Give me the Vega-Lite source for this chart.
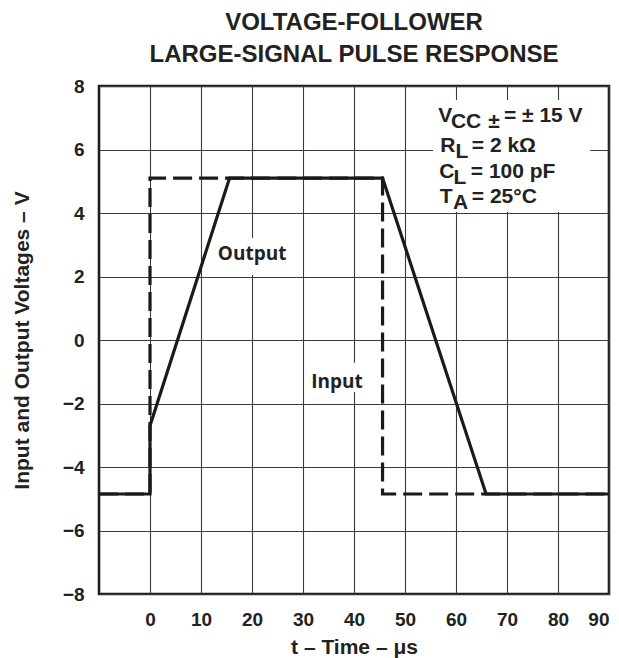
{
  "$schema": "https://vega.github.io/schema/vega-lite/v6.json",
  "width": 510,
  "height": 508,
  "autosize": {"type": "none"},
  "padding": {"left": 99, "top": 86, "right": 10, "bottom": 64},
  "background": "white",
  "title": {
    "text": ["VOLTAGE-FOLLOWER", "LARGE-SIGNAL PULSE RESPONSE"],
    "font": "Liberation Sans",
    "fontSize": 24,
    "fontWeight": "bold",
    "color": "#222222",
    "lineHeight": 32,
    "offset": 10
  },
  "config": {
    "view": {"stroke": "#1e1e1e", "strokeWidth": 2.6},
    "axis": {
      "labelFont": "Liberation Sans",
      "labelFontSize": 19,
      "labelFontWeight": "bold",
      "labelColor": "#222222",
      "titleFont": "Liberation Sans",
      "titleFontSize": 21,
      "titleFontWeight": "bold",
      "titleColor": "#222222",
      "domain": false,
      "ticks": false,
      "tickSize": 0,
      "gridColor": "#3a3a3a",
      "gridWidth": 1.1,
      "gridOpacity": 1,
      "labelExpr": "replace(datum.label, '-', '−')"
    }
  },
  "datasets": {
    "traces": [
      {"signal": "Output", "i": 1, "t": -10, "v": -4.85},
      {"signal": "Output", "i": 2, "t": 0, "v": -4.85},
      {"signal": "Output", "i": 3, "t": 0, "v": -2.7},
      {"signal": "Output", "i": 4, "t": 15.6, "v": 5.1},
      {"signal": "Output", "i": 5, "t": 45.6, "v": 5.1},
      {"signal": "Output", "i": 6, "t": 65.9, "v": -4.85},
      {"signal": "Output", "i": 7, "t": 90, "v": -4.85},
      {"signal": "Input", "i": 1, "t": -10, "v": -4.85},
      {"signal": "Input", "i": 2, "t": 0, "v": -4.85},
      {"signal": "Input", "i": 3, "t": 0, "v": 5.1},
      {"signal": "Input", "i": 4, "t": 45.6, "v": 5.1},
      {"signal": "Input", "i": 5, "t": 45.6, "v": -4.85},
      {"signal": "Input", "i": 6, "t": 90, "v": -4.85}
    ],
    "boxes": [
      {"name": "conditions", "x1": 55.5, "x2": 86.3, "y1": 7.56, "y2": 4.03},
      {"name": "Output", "x1": 13.5, "x2": 27.1, "y1": 3.21, "y2": 2.05},
      {"name": "Input", "x1": 32.0, "x2": 42.0, "y1": -0.72, "y2": -1.64}
    ],
    "labels": [
      {"label": "Output", "t": 13.3, "v": 2.52},
      {"label": "Input", "t": 31.6, "v": -1.52}
    ],
    "notes": [
      {"kind": "main", "txt": "V", "t": 56.5, "v": 6.86},
      {"kind": "sub", "txt": "CC", "t": 59.0, "v": 6.86},
      {"kind": "sub", "txt": "±", "t": 66.3, "v": 6.86},
      {"kind": "main", "txt": "= ± 15 V", "t": 69.4, "v": 6.86},
      {"kind": "main", "txt": "R", "t": 56.9, "v": 5.93},
      {"kind": "sub", "txt": "L", "t": 59.9, "v": 5.93},
      {"kind": "main", "txt": "= 2 kΩ", "t": 63.1, "v": 5.93},
      {"kind": "main", "txt": "C", "t": 56.7, "v": 5.11},
      {"kind": "sub", "txt": "L", "t": 59.5, "v": 5.11},
      {"kind": "main", "txt": "= 100 pF", "t": 62.9, "v": 5.11},
      {"kind": "main", "txt": "T", "t": 56.8, "v": 4.31},
      {"kind": "sub", "txt": "A", "t": 59.4, "v": 4.31},
      {"kind": "main", "txt": "= 25°C", "t": 63.1, "v": 4.31}
    ]
  },
  "layer": [
    {
      "data": {"name": "boxes"},
      "mark": {"type": "rect", "fill": "white", "stroke": null},
      "encoding": {
        "x": {"field": "x1", "type": "quantitative",
          "scale": {"domain": [-10, 90], "nice": false, "zero": false},
          "axis": {"values": [0, 10, 20, 30, 40, 50, 60, 70, 80, 90], "title": "t – Time – μs", "labelPadding": 16, "titlePadding": 7, "grid": true}},
        "x2": {"field": "x2"},
        "y": {"field": "y1", "type": "quantitative",
          "scale": {"domain": [-8, 8], "nice": false, "zero": false},
          "axis": {"values": [-8, -6, -4, -2, 0, 2, 4, 6, 8], "title": "Input and Output Voltages – V", "labelPadding": 15, "titlePadding": 30, "grid": true}},
        "y2": {"field": "y2"}
      }
    },
    {
      "data": {"name": "traces"},
      "transform": [{"filter": "datum.signal === 'Input'"}],
      "mark": {"type": "line", "color": "#1a1a1a", "strokeWidth": 3.2, "strokeDash": [19, 7], "strokeCap": "butt"},
      "encoding": {
        "x": {"field": "t", "type": "quantitative"},
        "y": {"field": "v", "type": "quantitative"},
        "order": {"field": "i", "type": "quantitative"}
      }
    },
    {
      "data": {"name": "traces"},
      "transform": [{"filter": "datum.signal === 'Output'"}],
      "mark": {"type": "line", "color": "#1a1a1a", "strokeWidth": 3.2},
      "encoding": {
        "x": {"field": "t", "type": "quantitative"},
        "y": {"field": "v", "type": "quantitative"},
        "order": {"field": "i", "type": "quantitative"}
      }
    },
    {
      "data": {"name": "labels"},
      "mark": {"type": "text", "font": "Open Sans", "fontSize": 19, "fontWeight": "bold", "color": "#222222", "align": "left", "baseline": "alphabetic"},
      "encoding": {
        "x": {"field": "t", "type": "quantitative"},
        "y": {"field": "v", "type": "quantitative"},
        "text": {"field": "label"}
      }
    },
    {
      "data": {"name": "notes"},
      "transform": [{"filter": "datum.kind === 'main'"}],
      "mark": {"type": "text", "font": "Liberation Sans", "fontSize": 21, "fontWeight": "bold", "color": "#222222", "align": "left", "baseline": "alphabetic"},
      "encoding": {
        "x": {"field": "t", "type": "quantitative"},
        "y": {"field": "v", "type": "quantitative"},
        "text": {"field": "txt"}
      }
    },
    {
      "data": {"name": "notes"},
      "transform": [{"filter": "datum.kind === 'sub'"}],
      "mark": {"type": "text", "font": "Liberation Sans", "fontSize": 21, "fontWeight": "bold", "color": "#222222", "align": "left", "baseline": "alphabetic", "dy": 6},
      "encoding": {
        "x": {"field": "t", "type": "quantitative"},
        "y": {"field": "v", "type": "quantitative"},
        "text": {"field": "txt"}
      }
    }
  ]
}
